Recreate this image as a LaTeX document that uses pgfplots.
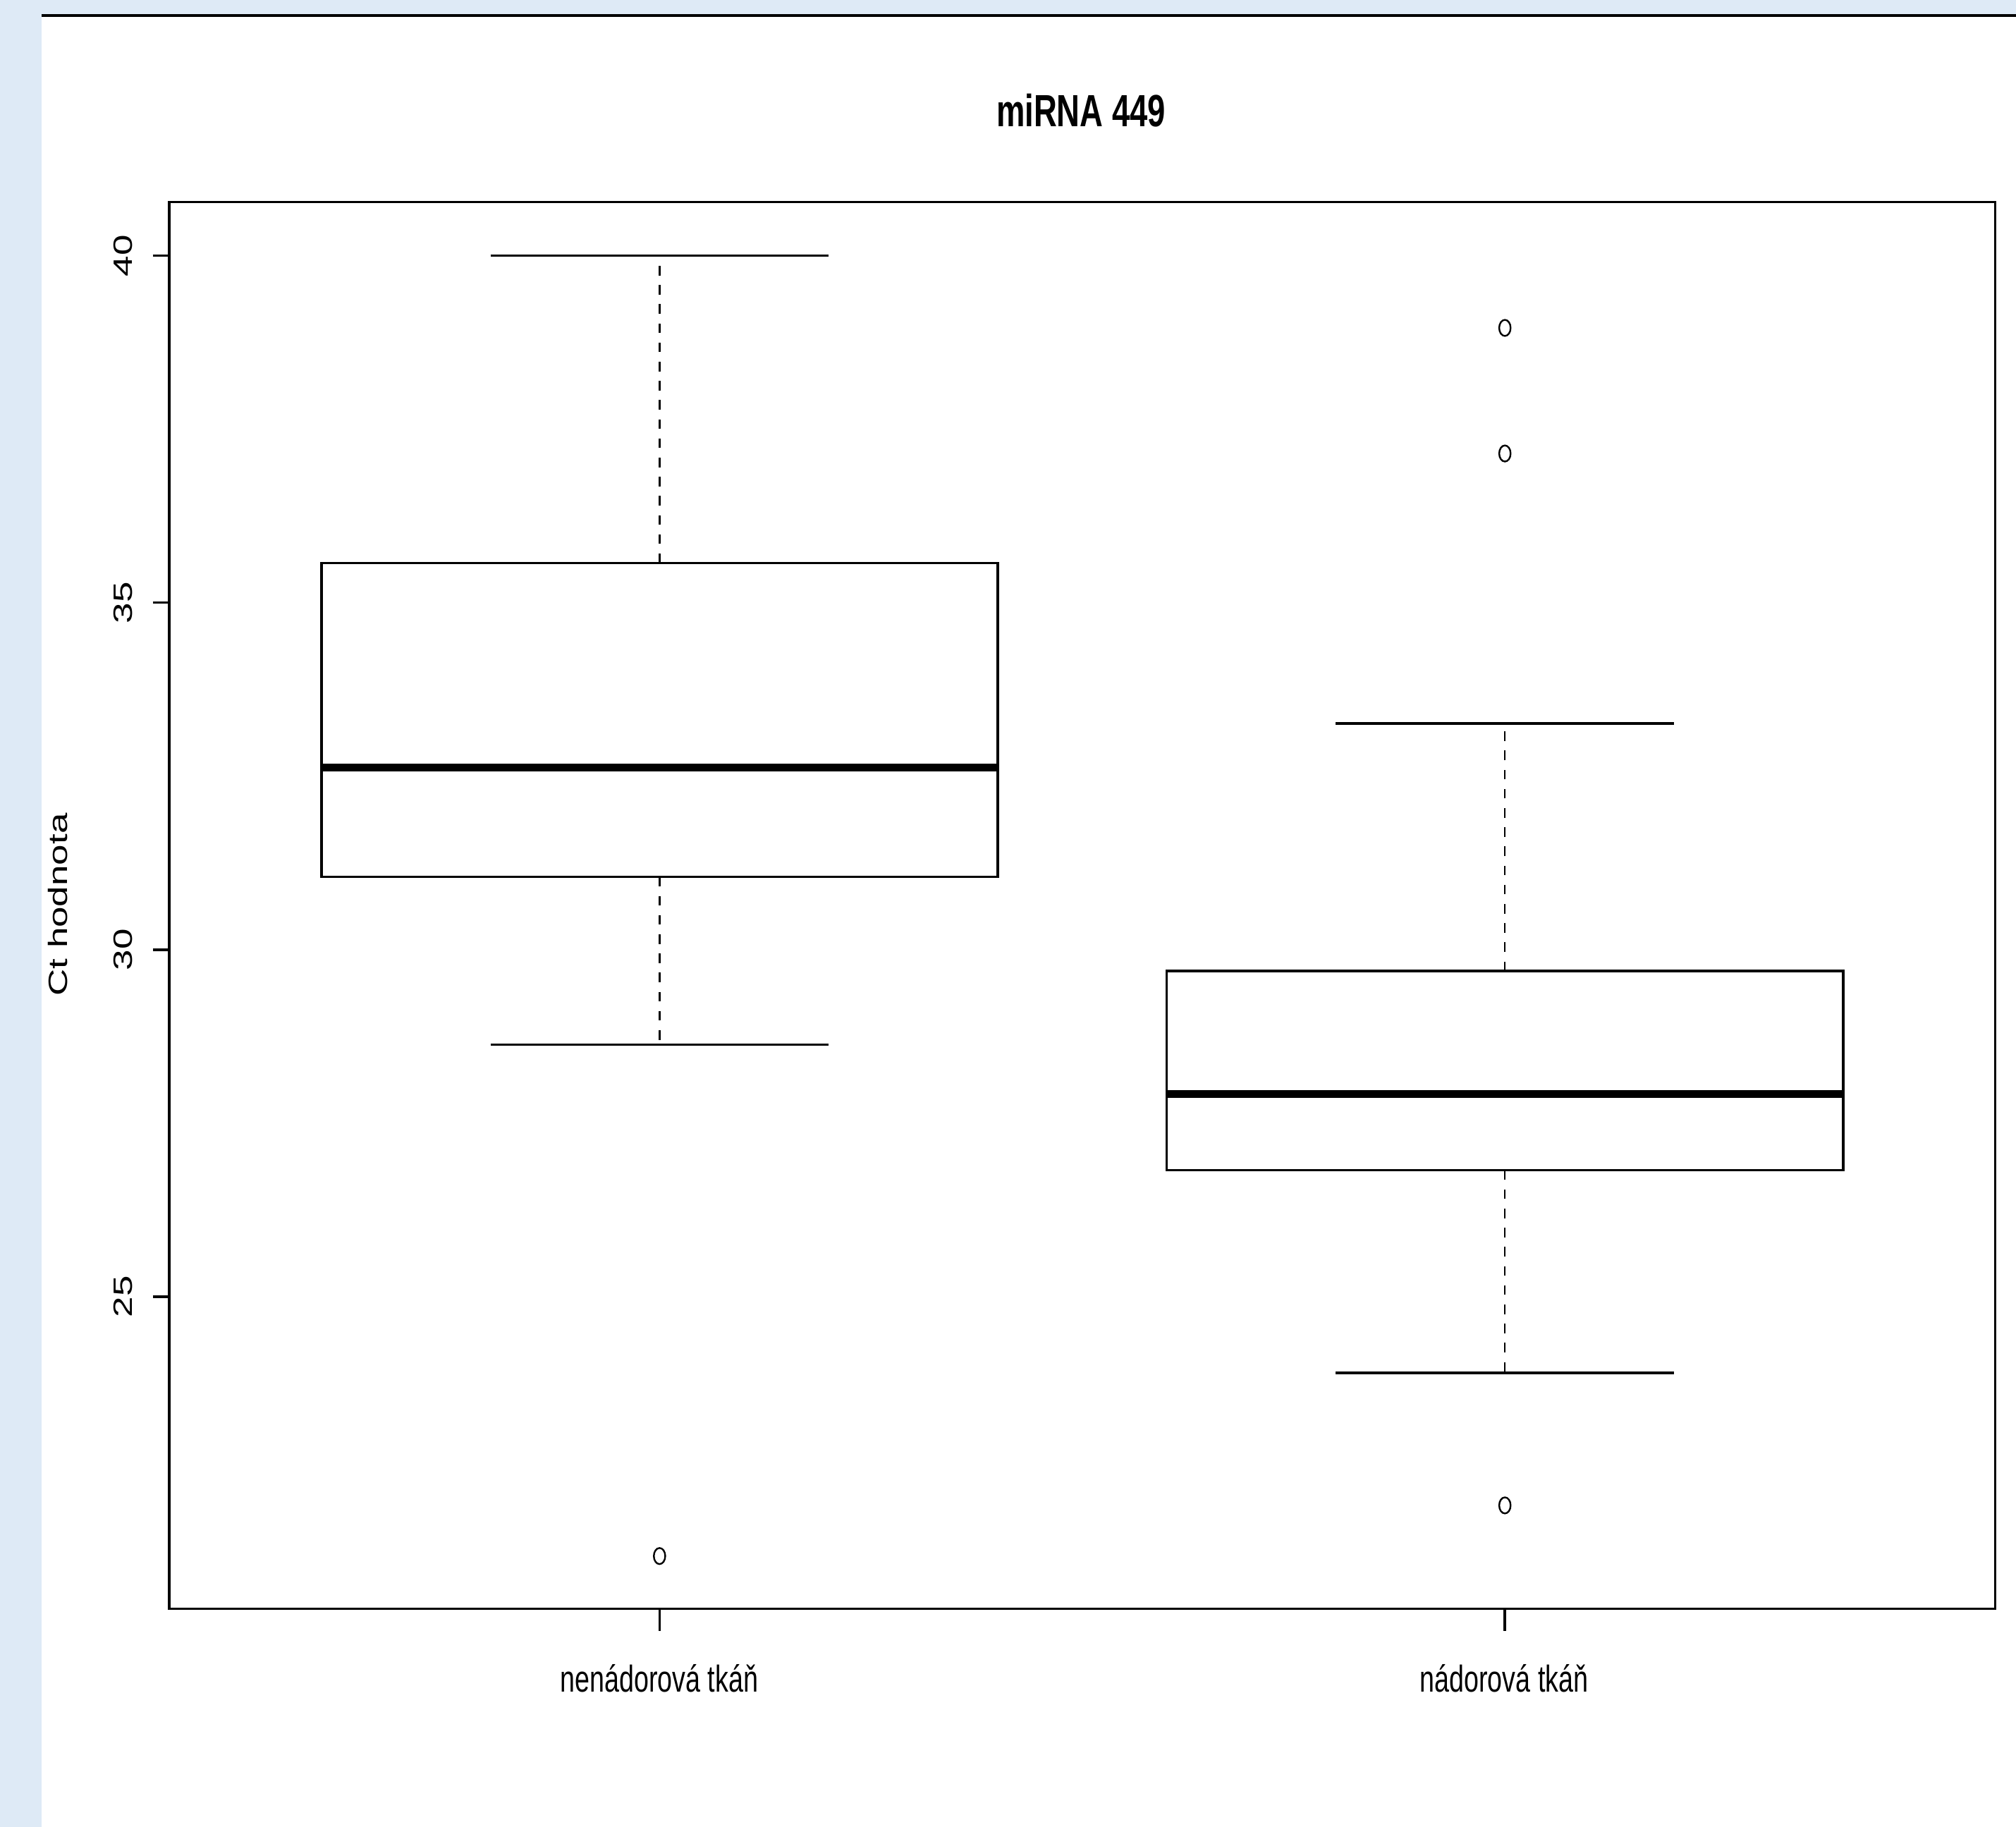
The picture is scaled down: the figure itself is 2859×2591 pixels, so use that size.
\documentclass[border=0pt]{standalone}
\usepackage{graphicx}
\usepackage{pgfplots}
\pgfplotsset{compat=1.18}
\usepackage{fontspec}
\setmainfont{Liberation Sans}
\definecolor{bgblue}{RGB}{222,234,246}
\newcommand{\hx}[1]{\scalebox{0.71}[1]{#1}}
\newcommand{\vx}[1]{\scalebox{1}[0.71]{#1}}
\newcommand{\lbl}{\fontsize{13.25pt}{16pt}\selectfont}
\begin{document}
\begin{tikzpicture}
\begin{scope}[x=0.25pt,y=-0.25pt]
  \fill[bgblue] (0,0) rectangle (2859,2591);
  \fill[white] (59,22) rectangle (2859,2591);
  \fill[black] (59,20) rectangle (2859,23.5);
  \coordinate (sw) at (240,2281.5);
  % title
  \node[anchor=base, inner sep=0pt] at (1533,179) {\fontsize{16pt}{19pt}\selectfont\bfseries\hx{miRNA 449}};
  % x tick labels
  \node[anchor=base, inner sep=0pt] at (935,2399) {\lbl\hx{nenádorová tkáň}};
  \node[anchor=base, inner sep=0pt] at (2133,2399) {\lbl\hx{nádorová tkáň}};
  % y label
  \node[anchor=base, inner sep=0pt, rotate=90] at (95,1283) {\lbl\vx{Ct hodnota}};
  % y tick labels
  \node[anchor=base, inner sep=0pt, rotate=90] at (187,362.7) {\lbl\vx{40}};
  \node[anchor=base, inner sep=0pt, rotate=90] at (187,854.7) {\lbl\vx{35}};
  \node[anchor=base, inner sep=0pt, rotate=90] at (187,1346.7) {\lbl\vx{30}};
  \node[anchor=base, inner sep=0pt, rotate=90] at (187,1838.7) {\lbl\vx{25}};
\end{scope}
\begin{axis}[
  at={(sw)}, anchor=south west,
  scale only axis, width=647.375pt, height=498.75pt,
  xmin=0.42, xmax=2.58, ymin=20.50, ymax=40.774,
  xtick={1,2}, ytick={25,30,35,40},
  xticklabel=\empty, yticklabel=\empty,
  tick align=outside, tick pos=left,
  axis line style={line width=0.9pt},
  every tick/.style={black, line width=0.9pt},
  xtick style={/pgfplots/major tick length=7.75pt},
  ytick style={/pgfplots/major tick length=5.75pt},
  clip=false,
]
% ---- group 1: nenádorová tkáň (Q1 31.05, median 32.62, Q3 35.57, whiskers 28.63 / 40.00)
\addplot[black, line width=0.9pt, line join=miter, mark=none] coordinates {(0.6,31.05) (1.4,31.05) (1.4,35.57) (0.6,35.57)} -- cycle;
\addplot[black, line width=2.75pt, mark=none] coordinates {(0.6,32.62) (1.4,32.62)};
\addplot[black, line width=0.65pt, dash pattern=on 3.4pt off 3.4pt, mark=none] coordinates {(1,35.57) (1,40.00)};
\addplot[black, line width=0.65pt, dash pattern=on 3.4pt off 3.4pt, mark=none] coordinates {(1,31.05) (1,28.63)};
\addplot[black, line width=0.9pt, mark=none] coordinates {(0.8,40.00) (1.2,40.00)};
\addplot[black, line width=0.9pt, mark=none] coordinates {(0.8,28.63) (1.2,28.63)};
\addplot[black, only marks, mark=o, mark size=2.85pt, mark options={xscale=0.71, line width=0.6pt, solid}] coordinates {(1,21.26)};
% ---- group 2: nádorová tkáň (Q1 26.82, median 27.92, Q3 29.69, whiskers 23.90 / 33.26)
\addplot[black, line width=0.9pt, line join=miter, mark=none] coordinates {(1.6,26.82) (2.4,26.82) (2.4,29.69) (1.6,29.69)} -- cycle;
\addplot[black, line width=2.75pt, mark=none] coordinates {(1.6,27.92) (2.4,27.92)};
\addplot[black, line width=0.65pt, dash pattern=on 3.4pt off 3.4pt, mark=none] coordinates {(2,29.69) (2,33.26)};
\addplot[black, line width=0.65pt, dash pattern=on 3.4pt off 3.4pt, mark=none] coordinates {(2,26.82) (2,23.90)};
\addplot[black, line width=0.9pt, mark=none] coordinates {(1.8,33.26) (2.2,33.26)};
\addplot[black, line width=0.9pt, mark=none] coordinates {(1.8,23.90) (2.2,23.90)};
\addplot[black, only marks, mark=o, mark size=2.85pt, mark options={xscale=0.71, line width=0.6pt, solid}] coordinates {(2,38.96) (2,37.15) (2,21.99)};
\end{axis}
\end{tikzpicture}
\end{document}
